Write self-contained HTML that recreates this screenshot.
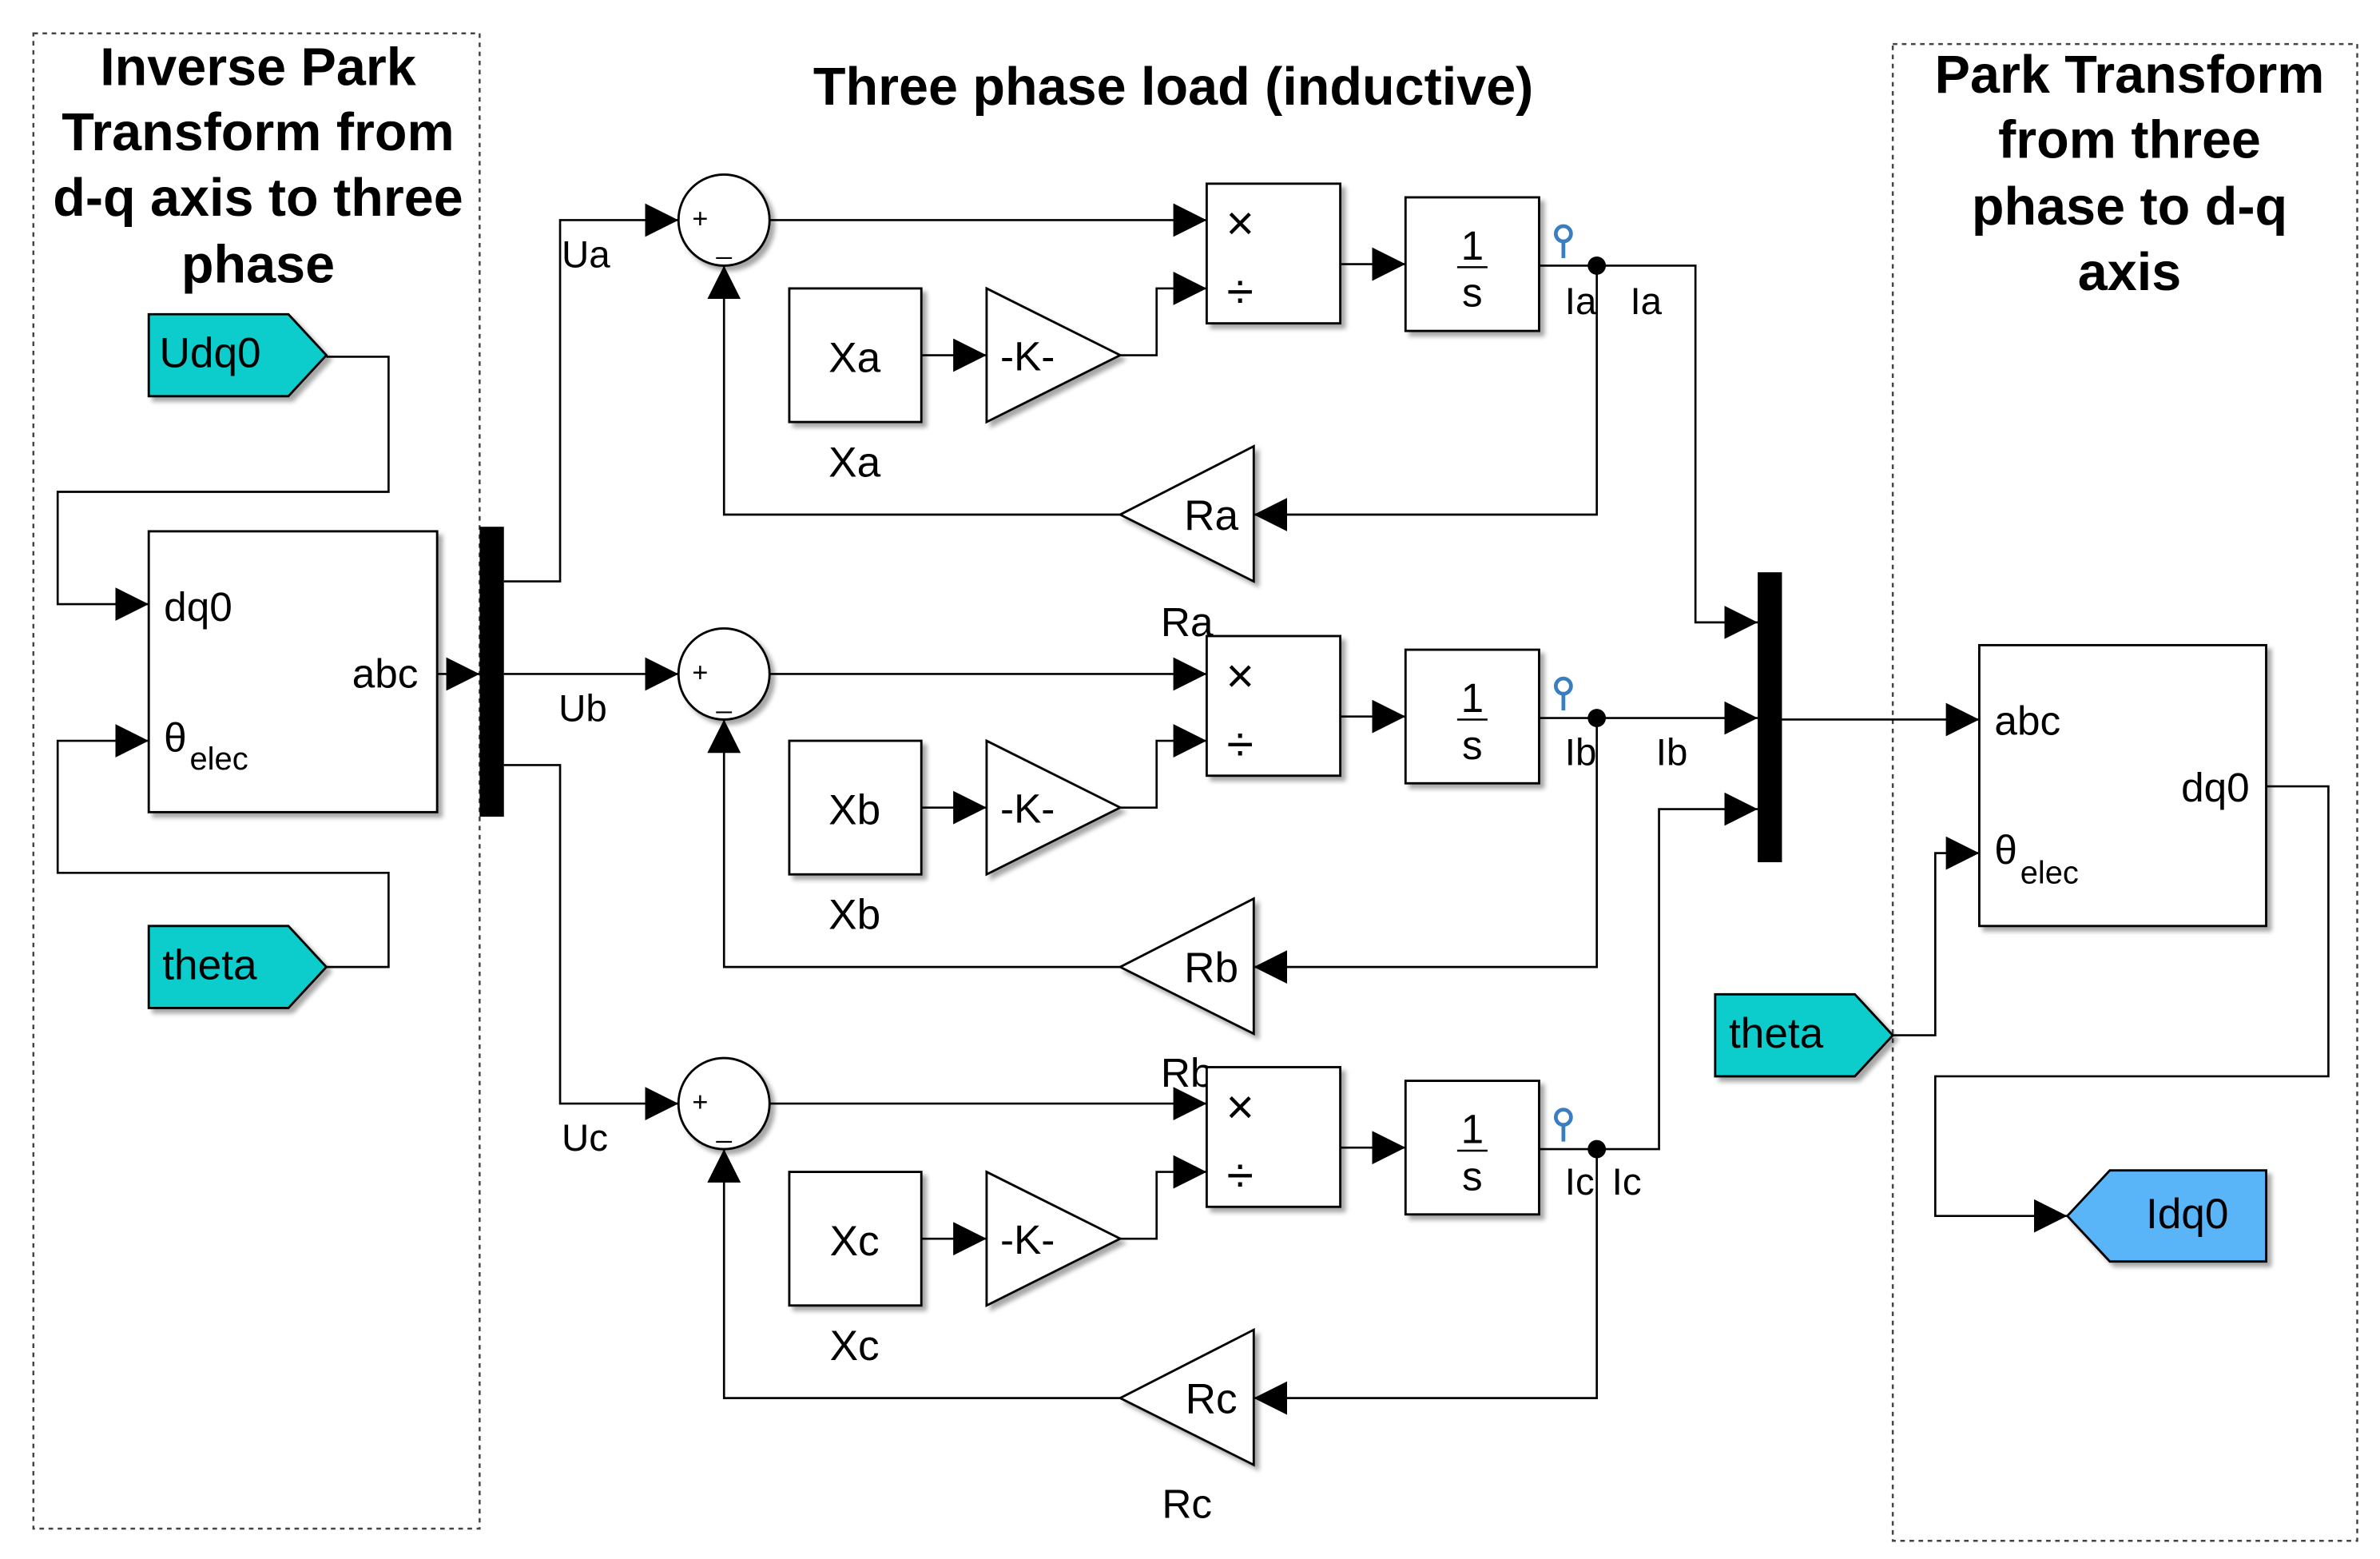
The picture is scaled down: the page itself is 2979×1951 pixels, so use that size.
<!DOCTYPE html>
<html><head><meta charset="utf-8"><style>
html,body{margin:0;padding:0;background:#fff}
svg{display:block}
text{font-family:"Liberation Sans",Arial,sans-serif;fill:#000}
</style></head><body>
<svg width="2979" height="1951" viewBox="0 0 1568 1027" preserveAspectRatio="none" xmlns="http://www.w3.org/2000/svg">
<defs>
<marker id="ar" viewBox="0 0 10 10" refX="10" refY="5" markerWidth="22" markerHeight="22" markerUnits="userSpaceOnUse" orient="auto"><path d="M0,0 L10,5 L0,10 z" fill="#000"/></marker>
<filter id="sh" x="-10%" y="-10%" width="130%" height="130%"><feOffset dx="3" dy="3" in="SourceAlpha"/><feGaussianBlur stdDeviation="1.5"/><feComponentTransfer><feFuncA type="linear" slope="0.35"/></feComponentTransfer><feMerge><feMergeNode/><feMergeNode in="SourceGraphic"/></feMerge></filter>
</defs>
<g fill="none" stroke="#000" stroke-width="1.3">
<rect x="22" y="22" width="294" height="985" stroke-dasharray="3,3" stroke="#444"/>
<rect x="1247" y="29" width="306" height="986" stroke-dasharray="3,3" stroke="#444"/>
</g>
<g font-weight="bold" font-size="35" text-anchor="middle">
<text x="170" y="56">Inverse Park</text>
<text x="170" y="99">Transform from</text>
<text x="170" y="142">d-q axis to three</text>
<text x="170" y="186">phase</text>
<text x="773" y="69">Three phase load (inductive)</text>
<text x="1403" y="61">Park Transform</text>
<text x="1403" y="104">from three</text>
<text x="1403" y="148">phase to d-q</text>
<text x="1403" y="191">axis</text>
</g>

<polygon points="98,207 190,207 215,234 190,261 98,261" fill="#0dcccc" stroke="#000" stroke-width="1.5" filter="url(#sh)"/>
<text x="105" y="242" font-size="28">Udq0</text>
<polygon points="98,610 190,610 215,637 190,664 98,664" fill="#0dcccc" stroke="#000" stroke-width="1.5" filter="url(#sh)"/>
<text x="107" y="645" font-size="28">theta</text>
<g fill="none" stroke="#000" stroke-width="1.4">
<polyline points="215,235 256,235 256,324 38,324 38,398 98,398" marker-end="url(#ar)"/>
<polyline points="215,637 256,637 256,575 38,575 38,488 98,488" marker-end="url(#ar)"/>
<line x1="288" y1="444" x2="316" y2="444" marker-end="url(#ar)"/>
<polyline points="332,383 369,383 369,145 447,145" marker-end="url(#ar)"/>
<line x1="332" y1="444" x2="447" y2="444" marker-end="url(#ar)"/>
<polyline points="332,504 369,504 369,727 447,727" marker-end="url(#ar)"/>
</g>
<rect x="98" y="350" width="190" height="185" fill="#fff" stroke="#000" stroke-width="1.5" filter="url(#sh)"/>
<text x="108" y="409" font-size="27">dq0</text>
<text x="232" y="453" font-size="27">abc</text>
<text x="108" y="495" font-size="27">θ</text><text x="125" y="507" font-size="21">elec</text>
<rect x="316" y="347" width="16" height="191" fill="#000"/>
<text x="370" y="176" font-size="25">Ua</text>
<text x="368" y="475" font-size="25">Ub</text>
<text x="370" y="758" font-size="25">Uc</text>

<g>
<g fill="none" stroke="#000" stroke-width="1.4">
<line x1="507" y1="145" x2="795" y2="145" marker-end="url(#ar)"/>
<line x1="607" y1="234" x2="650" y2="234" marker-end="url(#ar)"/>
<polyline points="738,234 762,234 762,190 795,190" marker-end="url(#ar)"/>
<line x1="883" y1="174" x2="926" y2="174" marker-end="url(#ar)"/>
<polyline points="1014,175 1117,175 1117,410 1158,410" marker-end="url(#ar)"/>
<polyline points="1052,175 1052,339 826,339" marker-end="url(#ar)"/>
<polyline points="738,339 477,339 477,175" marker-end="url(#ar)"/>
</g>
<circle cx="477" cy="145" r="30" fill="#fff" stroke="#000" stroke-width="1.5" filter="url(#sh)"/>
<text x="456" y="150" font-size="18">+</text><text x="472" y="167" font-size="18">_</text>
<rect x="795" y="121" width="88" height="92" fill="#fff" stroke="#000" stroke-width="1.5" filter="url(#sh)"/>
<text x="817" y="158" font-size="32" text-anchor="middle">×</text><text x="817" y="203" font-size="32" text-anchor="middle">÷</text>
<rect x="520" y="190" width="87" height="88" fill="#fff" stroke="#000" stroke-width="1.5" filter="url(#sh)"/>
<text x="563" y="245" font-size="28" text-anchor="middle">Xa</text>
<text x="563" y="314" font-size="28" text-anchor="middle">Xa</text>
<polygon points="650,190 738,234 650,278" fill="#fff" stroke="#000" stroke-width="1.5" filter="url(#sh)"/>
<text x="677" y="244" font-size="27" text-anchor="middle">-K-</text>
<rect x="926" y="130" width="88" height="88" fill="#fff" stroke="#000" stroke-width="1.5" filter="url(#sh)"/>
<text x="970" y="171" font-size="27" text-anchor="middle">1</text><line x1="960" y1="176" x2="980" y2="176" stroke="#000" stroke-width="1.3"/><text x="970" y="202" font-size="27" text-anchor="middle">s</text>
<circle cx="1052" cy="175" r="6" fill="#000"/>
<circle cx="1030" cy="154" r="5" fill="none" stroke="#3a7dc0" stroke-width="2.5"/><line x1="1030" y1="159" x2="1030" y2="170" stroke="#3a7dc0" stroke-width="2.5"/>
<text x="1031" y="207" font-size="25">Ia</text><text x="1074" y="207" font-size="25">Ia</text>
<polygon points="826,294 826,383 738,339" fill="#fff" stroke="#000" stroke-width="1.5" filter="url(#sh)"/>
<text x="798" y="349" font-size="28" text-anchor="middle">Ra</text>
<text x="782" y="419" font-size="27" text-anchor="middle">Ra</text>
</g>

<g transform="translate(0,298)">
<g fill="none" stroke="#000" stroke-width="1.4">
<line x1="507" y1="146" x2="795" y2="146" marker-end="url(#ar)"/>
<line x1="607" y1="234" x2="650" y2="234" marker-end="url(#ar)"/>
<polyline points="738,234 762,234 762,190 795,190" marker-end="url(#ar)"/>
<line x1="883" y1="174" x2="926" y2="174" marker-end="url(#ar)"/>
<line x1="1014" y1="175" x2="1158" y2="175" marker-end="url(#ar)"/>
<polyline points="1052,175 1052,339 826,339" marker-end="url(#ar)"/>
<polyline points="738,339 477,339 477,176" marker-end="url(#ar)"/>
</g>
<circle cx="477" cy="146" r="30" fill="#fff" stroke="#000" stroke-width="1.5" filter="url(#sh)"/>
<text x="456" y="151" font-size="18">+</text><text x="472" y="168" font-size="18">_</text>
<rect x="795" y="121" width="88" height="92" fill="#fff" stroke="#000" stroke-width="1.5" filter="url(#sh)"/>
<text x="817" y="158" font-size="32" text-anchor="middle">×</text><text x="817" y="203" font-size="32" text-anchor="middle">÷</text>
<rect x="520" y="190" width="87" height="88" fill="#fff" stroke="#000" stroke-width="1.5" filter="url(#sh)"/>
<text x="563" y="245" font-size="28" text-anchor="middle">Xb</text>
<text x="563" y="314" font-size="28" text-anchor="middle">Xb</text>
<polygon points="650,190 738,234 650,278" fill="#fff" stroke="#000" stroke-width="1.5" filter="url(#sh)"/>
<text x="677" y="244" font-size="27" text-anchor="middle">-K-</text>
<rect x="926" y="130" width="88" height="88" fill="#fff" stroke="#000" stroke-width="1.5" filter="url(#sh)"/>
<text x="970" y="171" font-size="27" text-anchor="middle">1</text><line x1="960" y1="176" x2="980" y2="176" stroke="#000" stroke-width="1.3"/><text x="970" y="202" font-size="27" text-anchor="middle">s</text>
<circle cx="1052" cy="175" r="6" fill="#000"/>
<circle cx="1030" cy="154" r="5" fill="none" stroke="#3a7dc0" stroke-width="2.5"/><line x1="1030" y1="159" x2="1030" y2="170" stroke="#3a7dc0" stroke-width="2.5"/>
<text x="1031" y="206" font-size="25">Ib</text><text x="1091" y="206" font-size="25">Ib</text>
<polygon points="826,294 826,383 738,339" fill="#fff" stroke="#000" stroke-width="1.5" filter="url(#sh)"/>
<text x="798" y="349" font-size="28" text-anchor="middle">Rb</text>
<text x="782" y="418" font-size="27" text-anchor="middle">Rb</text>
</g>

<g transform="translate(0,582)">
<g fill="none" stroke="#000" stroke-width="1.4">
<line x1="507" y1="145" x2="795" y2="145" marker-end="url(#ar)"/>
<line x1="607" y1="234" x2="650" y2="234" marker-end="url(#ar)"/>
<polyline points="738,234 762,234 762,190 795,190" marker-end="url(#ar)"/>
<line x1="883" y1="174" x2="926" y2="174" marker-end="url(#ar)"/>
<polyline points="1014,175 1093,175 1093,-49 1158,-49" marker-end="url(#ar)"/>
<polyline points="1052,175 1052,339 826,339" marker-end="url(#ar)"/>
<polyline points="738,339 477,339 477,175" marker-end="url(#ar)"/>
</g>
<circle cx="477" cy="145" r="30" fill="#fff" stroke="#000" stroke-width="1.5" filter="url(#sh)"/>
<text x="456" y="150" font-size="18">+</text><text x="472" y="167" font-size="18">_</text>
<rect x="795" y="121" width="88" height="92" fill="#fff" stroke="#000" stroke-width="1.5" filter="url(#sh)"/>
<text x="817" y="158" font-size="32" text-anchor="middle">×</text><text x="817" y="203" font-size="32" text-anchor="middle">÷</text>
<rect x="520" y="190" width="87" height="88" fill="#fff" stroke="#000" stroke-width="1.5" filter="url(#sh)"/>
<text x="563" y="245" font-size="28" text-anchor="middle">Xc</text>
<text x="563" y="314" font-size="28" text-anchor="middle">Xc</text>
<polygon points="650,190 738,234 650,278" fill="#fff" stroke="#000" stroke-width="1.5" filter="url(#sh)"/>
<text x="677" y="244" font-size="27" text-anchor="middle">-K-</text>
<rect x="926" y="130" width="88" height="88" fill="#fff" stroke="#000" stroke-width="1.5" filter="url(#sh)"/>
<text x="970" y="171" font-size="27" text-anchor="middle">1</text><line x1="960" y1="176" x2="980" y2="176" stroke="#000" stroke-width="1.3"/><text x="970" y="202" font-size="27" text-anchor="middle">s</text>
<circle cx="1052" cy="175" r="6" fill="#000"/>
<circle cx="1030" cy="154" r="5" fill="none" stroke="#3a7dc0" stroke-width="2.5"/><line x1="1030" y1="159" x2="1030" y2="170" stroke="#3a7dc0" stroke-width="2.5"/>
<text x="1031" y="205" font-size="25">Ic</text><text x="1062" y="205" font-size="25">Ic</text>
<polygon points="826,294 826,383 738,339" fill="#fff" stroke="#000" stroke-width="1.5" filter="url(#sh)"/>
<text x="798" y="349" font-size="28" text-anchor="middle">Rc</text>
<text x="782" y="418" font-size="27" text-anchor="middle">Rc</text>
</g>

<rect x="1158" y="377" width="16" height="191" fill="#000"/>
<g fill="none" stroke="#000" stroke-width="1.4">
<line x1="1174" y1="474" x2="1304" y2="474" marker-end="url(#ar)"/>
<polyline points="1247,682 1275,682 1275,562 1304,562" marker-end="url(#ar)"/>
<polyline points="1493,518 1534,518 1534,709 1275,709 1275,801 1362,801" marker-end="url(#ar)"/>
</g>
<rect x="1304" y="425" width="189" height="185" fill="#fff" stroke="#000" stroke-width="1.5" filter="url(#sh)"/>
<text x="1314" y="484" font-size="27">abc</text>
<text x="1437" y="528" font-size="27">dq0</text>
<text x="1314" y="569" font-size="27">θ</text><text x="1331" y="582" font-size="21">elec</text>
<polygon points="1130,655 1222,655 1247,682 1222,709 1130,709" fill="#0dcccc" stroke="#000" stroke-width="1.5" filter="url(#sh)"/>
<text x="1139" y="690" font-size="28">theta</text>
<polygon points="1362,801 1390,771 1493,771 1493,831 1390,831" fill="#5ab4f8" stroke="#000" stroke-width="1.5" filter="url(#sh)"/>
<text x="1441" y="809" font-size="28" text-anchor="middle">Idq0</text>
</svg>
</body></html>
